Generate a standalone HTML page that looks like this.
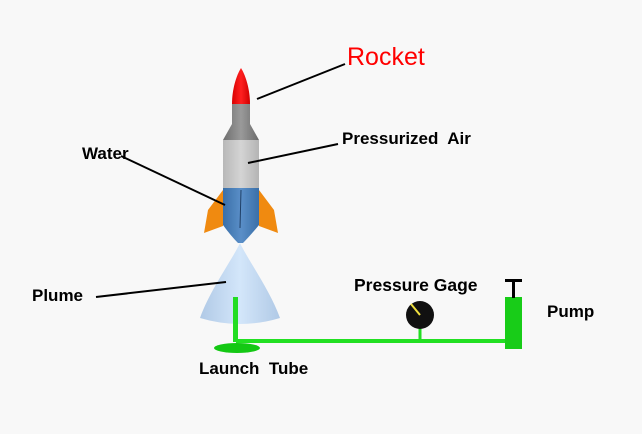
<!DOCTYPE html>
<html><head><meta charset="utf-8"><style>
html,body{margin:0;padding:0;background:#f8f8f8;}
svg{display:block;}
text{font-family:"Liberation Sans",Arial,sans-serif;font-weight:bold;fill:#000;}
</style></head><body>
<svg width="642" height="434" viewBox="0 0 642 434" xmlns="http://www.w3.org/2000/svg">
<defs>
<linearGradient id="gray" x1="0" x2="1"><stop offset="0" stop-color="#6e6e6e"/><stop offset="0.5" stop-color="#9a9a9a"/><stop offset="1" stop-color="#6a6a6a"/></linearGradient>
<linearGradient id="lg" x1="0" x2="1"><stop offset="0" stop-color="#b8b8b8"/><stop offset="0.5" stop-color="#d4d4d4"/><stop offset="1" stop-color="#b4b4b4"/></linearGradient>
<linearGradient id="blue" x1="0" x2="1"><stop offset="0" stop-color="#3a6fa8"/><stop offset="0.5" stop-color="#5a8fc8"/><stop offset="1" stop-color="#3a6fa8"/></linearGradient>
<linearGradient id="red" x1="0" x2="1"><stop offset="0" stop-color="#d80000"/><stop offset="0.5" stop-color="#ff2020"/><stop offset="1" stop-color="#d00000"/></linearGradient>
<linearGradient id="plume" x1="0" x2="1"><stop offset="0" stop-color="#a8c4e4"/><stop offset="0.5" stop-color="#cfe4fa"/><stop offset="1" stop-color="#a8c4e4"/></linearGradient>
</defs>
<polygon points="223,190 208,210 204,233 223,226" fill="#f08a10"/>
<polygon points="259,190 274,210 278,233 259,226" fill="#f08a10"/>
<path d="M240,243 C232,260 210,290 200,318 Q240,330 280,318 C270,290 248,260 240,243 Z" fill="url(#plume)" opacity="0.9"/>
<path d="M223,188 L259,188 L259,225 Q250,236 243,243 L238,243 Q231,236 223,225 Z" fill="url(#blue)"/>
<rect x="223" y="140" width="36" height="48" fill="url(#lg)"/>
<path d="M232,103 L250,103 L250,124 L259,140 L223,140 L232,124 Z" fill="url(#gray)"/>
<path d="M241,68 C236,76 232,90 232,104 L250,104 C250,90 246,76 241,68 Z" fill="url(#red)"/>
<line x1="241" y1="190" x2="240" y2="228" stroke="#1f3f66" stroke-width="1"/>
<rect x="233" y="297" width="5" height="45" fill="#22dd22"/>
<ellipse cx="237" cy="348" rx="23" ry="5" fill="#14c814"/>
<rect x="236" y="339" width="272" height="4" fill="#22e022"/>
<line x1="420" y1="328" x2="420" y2="340" stroke="#22dd22" stroke-width="3"/>
<circle cx="420" cy="315" r="14" fill="#111"/>
<line x1="420" y1="315" x2="411" y2="304" stroke="#f0e040" stroke-width="2"/>
<rect x="505" y="297" width="17" height="52" fill="#18cc18"/>
<rect x="505" y="279" width="17" height="3" fill="#000"/>
<rect x="512" y="280" width="3" height="18" fill="#000"/>
<g stroke="#000" stroke-width="2">
<line x1="345" y1="64" x2="257" y2="99"/>
<line x1="338" y1="144" x2="248" y2="163"/>
<line x1="121" y1="156" x2="225" y2="205"/>
<line x1="96" y1="297" x2="226" y2="282"/>
</g>
<text x="347" y="65" font-size="25" style="font-weight:normal;fill:#ff0000">Rocket</text>
<text x="342" y="144" font-size="17" xml:space="preserve">Pressurized  Air</text>
<text x="82" y="159" font-size="17">Water</text>
<text x="32" y="301" font-size="17">Plume</text>
<text x="354" y="291" font-size="17.5">Pressure Gage</text>
<text x="547" y="317" font-size="17">Pump</text>
<text x="199" y="374" font-size="17" xml:space="preserve">Launch  Tube</text>
</svg>
</body></html>
